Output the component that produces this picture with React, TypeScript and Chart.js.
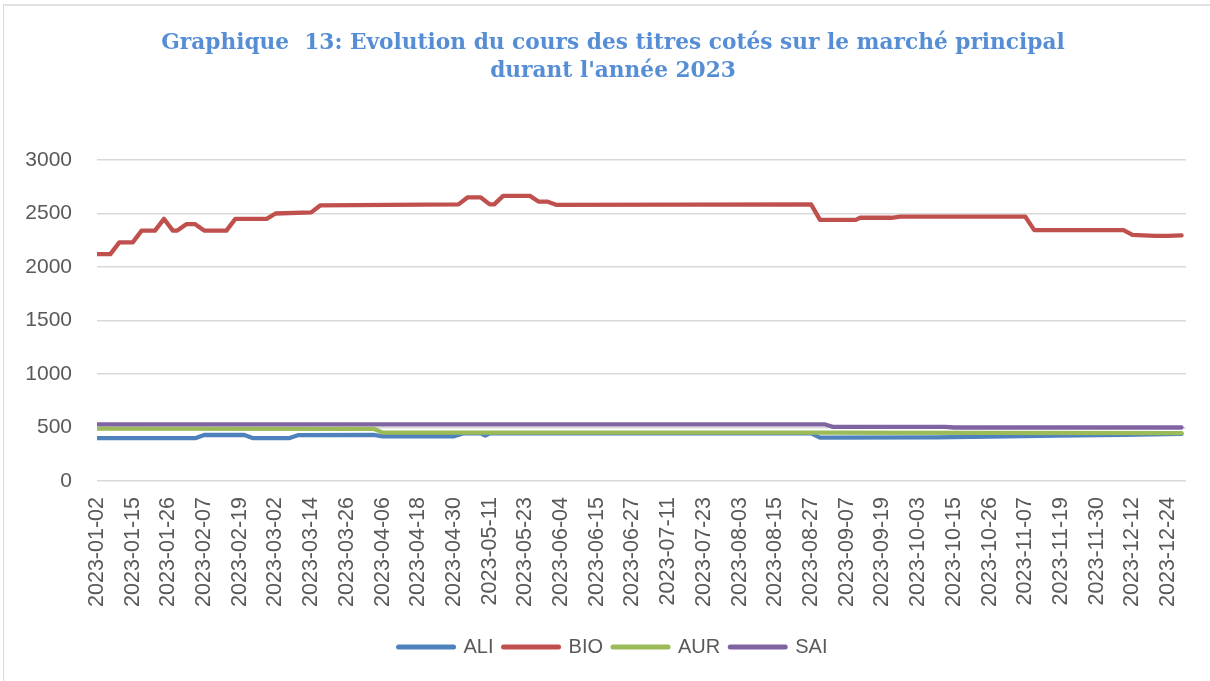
import { useEffect, useRef } from 'react';
import { Chart, registerables } from 'chart.js';

Chart.register(...registerables);

// Tick labels shown on the x axis (one every 8 trading sessions)
const xTickLabels = [
  '2023-01-02', '2023-01-15', '2023-01-26', '2023-02-07', '2023-02-19', '2023-03-02',
  '2023-03-14', '2023-03-26', '2023-04-06', '2023-04-18', '2023-04-30', '2023-05-11',
  '2023-05-23', '2023-06-04', '2023-06-15', '2023-06-27', '2023-07-11', '2023-07-23',
  '2023-08-03', '2023-08-15', '2023-08-27', '2023-09-07', '2023-09-19', '2023-10-03',
  '2023-10-15', '2023-10-26', '2023-11-07', '2023-11-19', '2023-11-30', '2023-12-12',
  '2023-12-24',
];
const sessionsPerLabel = 8;
const axisMaxSession = 244;

const seriesNames = ['ALI', 'BIO', 'AUR', 'SAI'];
const seriesColors = ['#4F81BD', '#C0504D', '#9BBB59', '#8064A2'];

// [session index, price] at each change of level
const aliPoints: [number, number][] = [
  [0, 400], [22, 400], [24, 430], [33, 430], [35, 400], [43, 400], [45, 428], [62, 430],
  [64, 418], [80, 418], [82, 445], [86, 445], [87, 425], [88, 445], [160, 445], [162, 405],
  [188, 408], [200, 415], [215, 425], [230, 432], [243, 440],
];
const bioPoints: [number, number][] = [
  [0, 2120], [3, 2120], [5, 2230], [8, 2230], [10, 2340], [13, 2340], [15, 2450], [17, 2340],
  [18, 2340], [20, 2400], [22, 2400], [24, 2340], [29, 2340], [31, 2450], [38, 2450], [40, 2500],
  [48, 2510], [50, 2575], [81, 2585], [83, 2650], [86, 2650], [88, 2585], [89, 2585], [91, 2665],
  [97, 2665], [99, 2610], [101, 2610], [103, 2580], [160, 2585], [162, 2440], [170, 2440],
  [171, 2460], [178, 2460], [180, 2470], [208, 2470], [210, 2345], [230, 2345], [232, 2300],
  [237, 2290], [240, 2290], [243, 2295],
];
const aurPoints: [number, number][] = [
  [0, 490], [62, 488], [64, 452], [160, 452], [243, 448],
];
const saiPoints: [number, number][] = [
  [0, 530], [163, 530], [165, 505], [190, 505], [192, 500], [243, 500],
];

const allSeries = [aliPoints, bioPoints, aurPoints, saiPoints];

const titleLines = [
  'Graphique  13: Evolution du cours des titres cotés sur le marché principal',
  "durant l'année 2023",
];
const yMin = 0;
const yMax = 3000;
const yStep = 500;

const textColor = '#595959';
const gridColor = '#D9D9D9';
const sansFont = "'Liberation Sans', Arial, sans-serif";

// shifts the title and legend a little to the right, as in the original layout
const centerShiftPlugin = {
  id: 'centerShift',
  afterLayout(chart: any) {
    const d = 7;
    for (const box of [chart.legend, chart.titleBlock]) {
      if (box) {
        box.left += d;
        box.right += d;
      }
    }
  },
};

export default function App() {
  const canvasRef = useRef<HTMLCanvasElement>(null);

  useEffect(() => {
    const canvas = canvasRef.current;
    if (!canvas) return;
    const chart = new Chart(canvas, {
      type: 'line',
      data: {
        datasets: allSeries.map((pts, i) => ({
          label: seriesNames[i],
          data: pts.map(([x, y]) => ({ x, y })),
          borderColor: seriesColors[i],
          backgroundColor: seriesColors[i],
          borderWidth: 4.3,
          pointRadius: 0,
          tension: 0,
          borderJoinStyle: 'round' as const,
          borderCapStyle: 'round' as const,
          order: allSeries.length - 1 - i,
        })),
      },
      plugins: [centerShiftPlugin],
      options: {
        animation: false,
        responsive: false,
        events: [],
        layout: { padding: { left: 26, right: 24, top: 0, bottom: 14 } },
        plugins: {
          title: {
            display: true,
            text: titleLines,
            color: '#558ED5',
            font: { family: "'DejaVu Serif', serif", size: 21.7, weight: 'bold', lineHeight: 1.29 },
            padding: { top: 29, bottom: 75 },
          },
          legend: {
            position: 'bottom',
            labels: {
              usePointStyle: true,
              pointStyleWidth: 55,
              color: textColor,
              padding: 10,
              font: { family: sansFont, size: 20 },
              generateLabels: (c: any) =>
                c.data.datasets.map((ds: any, i: number) => ({
                  text: ds.label,
                  fillStyle: ds.borderColor,
                  strokeStyle: ds.borderColor,
                  lineWidth: 5,
                  lineCap: 'round',
                  pointStyle: 'line',
                  hidden: false,
                  datasetIndex: i,
                  fontColor: textColor,
                })),
            },
          },
          tooltip: { enabled: false },
        },
        scales: {
          x: {
            type: 'linear',
            min: 0,
            max: axisMaxSession,
            afterBuildTicks: (axis: any) => {
              axis.ticks = xTickLabels.map((_, i) => ({ value: i * sessionsPerLabel }));
            },
            afterFit: (axis: any) => {
              axis.height = 146;
            },
            ticks: {
              autoSkip: false,
              maxRotation: 90,
              minRotation: 90,
              padding: 8,
              color: textColor,
              font: { family: sansFont, size: 21.5 },
              callback: (value: any) => xTickLabels[Math.round(Number(value) / sessionsPerLabel)] ?? '',
            },
            grid: { display: false },
            border: { display: false },
          },
          y: {
            min: yMin,
            max: yMax,
            afterFit: (axis: any) => {
              axis.width = 71;
            },
            ticks: {
              stepSize: yStep,
              padding: 25,
              color: textColor,
              font: { family: sansFont, size: 21 },
              callback: (value: any) => String(value),
            },
            grid: { color: gridColor, lineWidth: 1.5, drawTicks: false },
            border: { display: false },
          },
        },
      },
    } as any);
    return () => chart.destroy();
  }, []);

  return (
    <div style={{ position: 'fixed', left: 0, top: 0, width: 1210, height: 681, background: '#fff', overflow: 'hidden' }}>
      <div
        style={{
          position: 'absolute',
          left: 3,
          top: 4,
          width: 1230,
          height: 700,
          borderLeft: '1px solid #D9D9D9',
          borderTop: '2px solid #E3E3E3',
        }}
      />
      <canvas ref={canvasRef} width={1210} height={681} style={{ position: 'absolute', left: 0, top: 0 }} />
    </div>
  );
}
